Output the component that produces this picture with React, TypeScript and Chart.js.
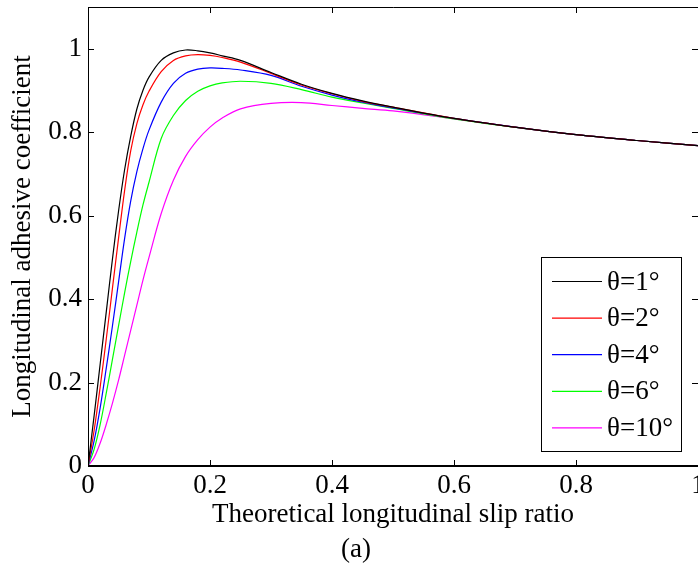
import { useEffect, useRef } from "react";
import { Chart, registerables } from "chart.js";

Chart.register(...registerables);

// ---- data ----
const SLIP = [0, 0.01, 0.02, 0.03, 0.04, 0.05, 0.06, 0.07, 0.08, 0.09, 0.1, 0.12, 0.14, 0.16, 0.18, 0.2, 0.22, 0.25, 0.3, 0.35, 0.4, 0.45, 0.5, 0.6, 0.7, 0.8, 0.9, 1.0];
const THETA_1 = [0, 0.12, 0.245, 0.37, 0.495, 0.61, 0.71, 0.79, 0.855, 0.9, 0.932, 0.972, 0.99, 0.997, 0.995, 0.99, 0.983, 0.972, 0.943, 0.915, 0.893, 0.875, 0.86, 0.833, 0.812, 0.794, 0.78, 0.768];
const THETA_2 = [0, 0.085, 0.19, 0.305, 0.425, 0.545, 0.66, 0.755, 0.82, 0.865, 0.898, 0.945, 0.972, 0.983, 0.986, 0.984, 0.979, 0.968, 0.941, 0.913, 0.892, 0.874, 0.86, 0.833, 0.812, 0.794, 0.78, 0.768];
const THETA_4 = [0, 0.06, 0.14, 0.235, 0.335, 0.44, 0.545, 0.635, 0.705, 0.76, 0.805, 0.872, 0.917, 0.941, 0.951, 0.954, 0.953, 0.949, 0.936, 0.91, 0.889, 0.872, 0.858, 0.833, 0.812, 0.794, 0.78, 0.768];
const THETA_6 = [0, 0.04, 0.1, 0.175, 0.255, 0.335, 0.415, 0.49, 0.56, 0.625, 0.68, 0.785, 0.84, 0.876, 0.898, 0.911, 0.918, 0.922, 0.917, 0.902, 0.884, 0.87, 0.857, 0.832, 0.812, 0.794, 0.78, 0.768];
const THETA_10 = [0, 0.02, 0.055, 0.1, 0.15, 0.205, 0.265, 0.325, 0.385, 0.445, 0.5, 0.605, 0.685, 0.742, 0.782, 0.812, 0.834, 0.856, 0.869, 0.871, 0.864, 0.857, 0.851, 0.832, 0.812, 0.794, 0.78, 0.768];

const SERIES = [THETA_1, THETA_2, THETA_4, THETA_6, THETA_10];
const LABELS = ["θ=1°", "θ=2°", "θ=4°", "θ=6°", "θ=10°"];
const COLORS = ["#000000", "#ff0000", "#0000ff", "#00ff00", "#ff00ff"];

const X_TICKS = [0, 0.2, 0.4, 0.6, 0.8, 1];
const X_TICK_LABELS = ["0", "0.2", "0.4", "0.6", "0.8", "1"];
const Y_TICKS = [0, 0.2, 0.4, 0.6, 0.8, 1];
const Y_TICK_LABELS = ["0", "0.2", "0.4", "0.6", "0.8", "1"];

const X_TITLE = "Theoretical longitudinal slip ratio";
const Y_TITLE = "Longitudinal adhesive coefficient";
const CAPTION = "(a)";

const FONT = "'Liberation Serif', 'Times New Roman', Times, serif";
const W = 698;
const H = 565;

const framePlugin = {
  id: "frame",
  afterDatasetsDraw(chart: any) {
    const { ctx, chartArea } = chart;
    const { left, right, top, bottom } = chartArea;
    const xs = chart.scales.x;
    const ys = chart.scales.y;
    ctx.save();
    ctx.strokeStyle = "#000";
    ctx.lineWidth = 1;
    // frame
    ctx.beginPath();
    ctx.moveTo(left + 0.5, bottom);
    ctx.lineTo(left + 0.5, top + 0.5);
    ctx.lineTo(right, top + 0.5);
    ctx.stroke();
    ctx.lineWidth = 2;
    ctx.beginPath();
    ctx.moveTo(left, bottom);
    ctx.lineTo(right, bottom);
    ctx.stroke();
    // inward ticks
    ctx.lineWidth = 1;
    const TL = 6;
    ctx.beginPath();
    X_TICKS.forEach((v) => {
      const px = Math.round(xs.getPixelForValue(v)) + 0.5;
      ctx.moveTo(px, bottom);
      ctx.lineTo(px, bottom - TL);
      ctx.moveTo(px, top);
      ctx.lineTo(px, top + TL);
    });
    Y_TICKS.forEach((v) => {
      const py = Math.round(ys.getPixelForValue(v)) + 0.5;
      ctx.moveTo(left, py);
      ctx.lineTo(left + TL, py);
      ctx.moveTo(right, py);
      ctx.lineTo(right - TL, py);
    });
    ctx.stroke();

    // legend
    const bx = 541.5, by = 257.5, bw = 140, bh = 194;
    ctx.fillStyle = "#fff";
    ctx.fillRect(bx, by, bw, bh);
    ctx.strokeStyle = "#000";
    ctx.lineWidth = 1;
    ctx.strokeRect(bx, by, bw, bh);
    ctx.font = `27px ${FONT}`;
    ctx.textBaseline = "middle";
    ctx.textAlign = "left";
    chart.data.datasets.forEach((ds: any, i: number) => {
      const ly = 281.5 + i * 36.6;
      ctx.strokeStyle = ds.borderColor;
      ctx.lineWidth = 1.2;
      ctx.beginPath();
      ctx.moveTo(552, ly);
      ctx.lineTo(602, ly);
      ctx.stroke();
      ctx.fillStyle = "#000";
      ctx.fillText(ds.label, 607, ly + 1);
    });

    // caption
    ctx.textAlign = "center";
    ctx.fillText(CAPTION, 356, 550);
    ctx.restore();
  },
};

export default function App() {
  const ref = useRef<HTMLCanvasElement>(null);
  useEffect(() => {
    const canvas = ref.current;
    if (!canvas) return;
    Chart.defaults.font.family = FONT;
    const chart = new Chart(canvas, {
      type: "line",
      data: {
        datasets: SERIES.map((s, i) => ({
          label: LABELS[i],
          data: SLIP.map((x, j) => ({ x, y: s[j] })),
          borderColor: COLORS[i],
          backgroundColor: COLORS[i],
          borderWidth: 1.2,
          pointRadius: 0,
          tension: 0.35,
          fill: false,
        })),
      },
      options: {
        responsive: false,
        animation: false,
        devicePixelRatio: 1,
        layout: { padding: { top: 7, right: 0, bottom: 0, left: 0 } },
        plugins: {
          legend: { display: false },
          tooltip: { enabled: false },
        },
        scales: {
          x: {
            type: "linear",
            min: 0,
            max: 1,
            grid: { display: false, drawTicks: false },
            border: { display: false },
            ticks: {
              color: "#000",
              font: { size: 27, family: FONT },
              padding: 4,
              maxRotation: 0,
              autoSkip: false,
              callback: (v: any) => {
                const k = X_TICKS.indexOf(Number(v));
                return k >= 0 ? X_TICK_LABELS[k] : "";
              },
            },
            afterBuildTicks: (scale: any) => {
              scale.ticks = X_TICKS.map((value) => ({ value }));
            },
            afterFit: (scale: any) => {
              scale.height = H - 466;
              scale.paddingLeft = 0;
              scale.paddingRight = 0;
            },
            title: {
              display: true,
              text: X_TITLE,
              color: "#000",
              font: { size: 27, family: FONT },
              padding: { top: 0, bottom: 34 },
            },
          },
          y: {
            type: "linear",
            min: 0,
            max: 1.1,
            grid: { display: false, drawTicks: false },
            border: { display: false },
            ticks: {
              color: "#000",
              font: { size: 27, family: FONT },
              padding: 6,
              autoSkip: false,
              callback: (v: any) => {
                const k = Y_TICKS.indexOf(Number(v));
                return k >= 0 ? Y_TICK_LABELS[k] : "";
              },
            },
            afterBuildTicks: (scale: any) => {
              scale.ticks = Y_TICKS.map((value) => ({ value }));
            },
            afterFit: (scale: any) => {
              scale.width = 88;
              scale.paddingTop = 0;
              scale.paddingBottom = 0;
            },
            title: {
              display: true,
              text: Y_TITLE,
              color: "#000",
              font: { size: 27, family: FONT },
              padding: { top: 7, bottom: 0 },
            },
          },
        },
      },
      plugins: [framePlugin],
    });
    return () => chart.destroy();
  }, []);
  return (
    <div style={{ position: "fixed", left: 0, top: 0, width: W, height: H, background: "#fff" }}>
      <canvas ref={ref} width={W} height={H} style={{ display: "block", width: W, height: H }} />
    </div>
  );
}
